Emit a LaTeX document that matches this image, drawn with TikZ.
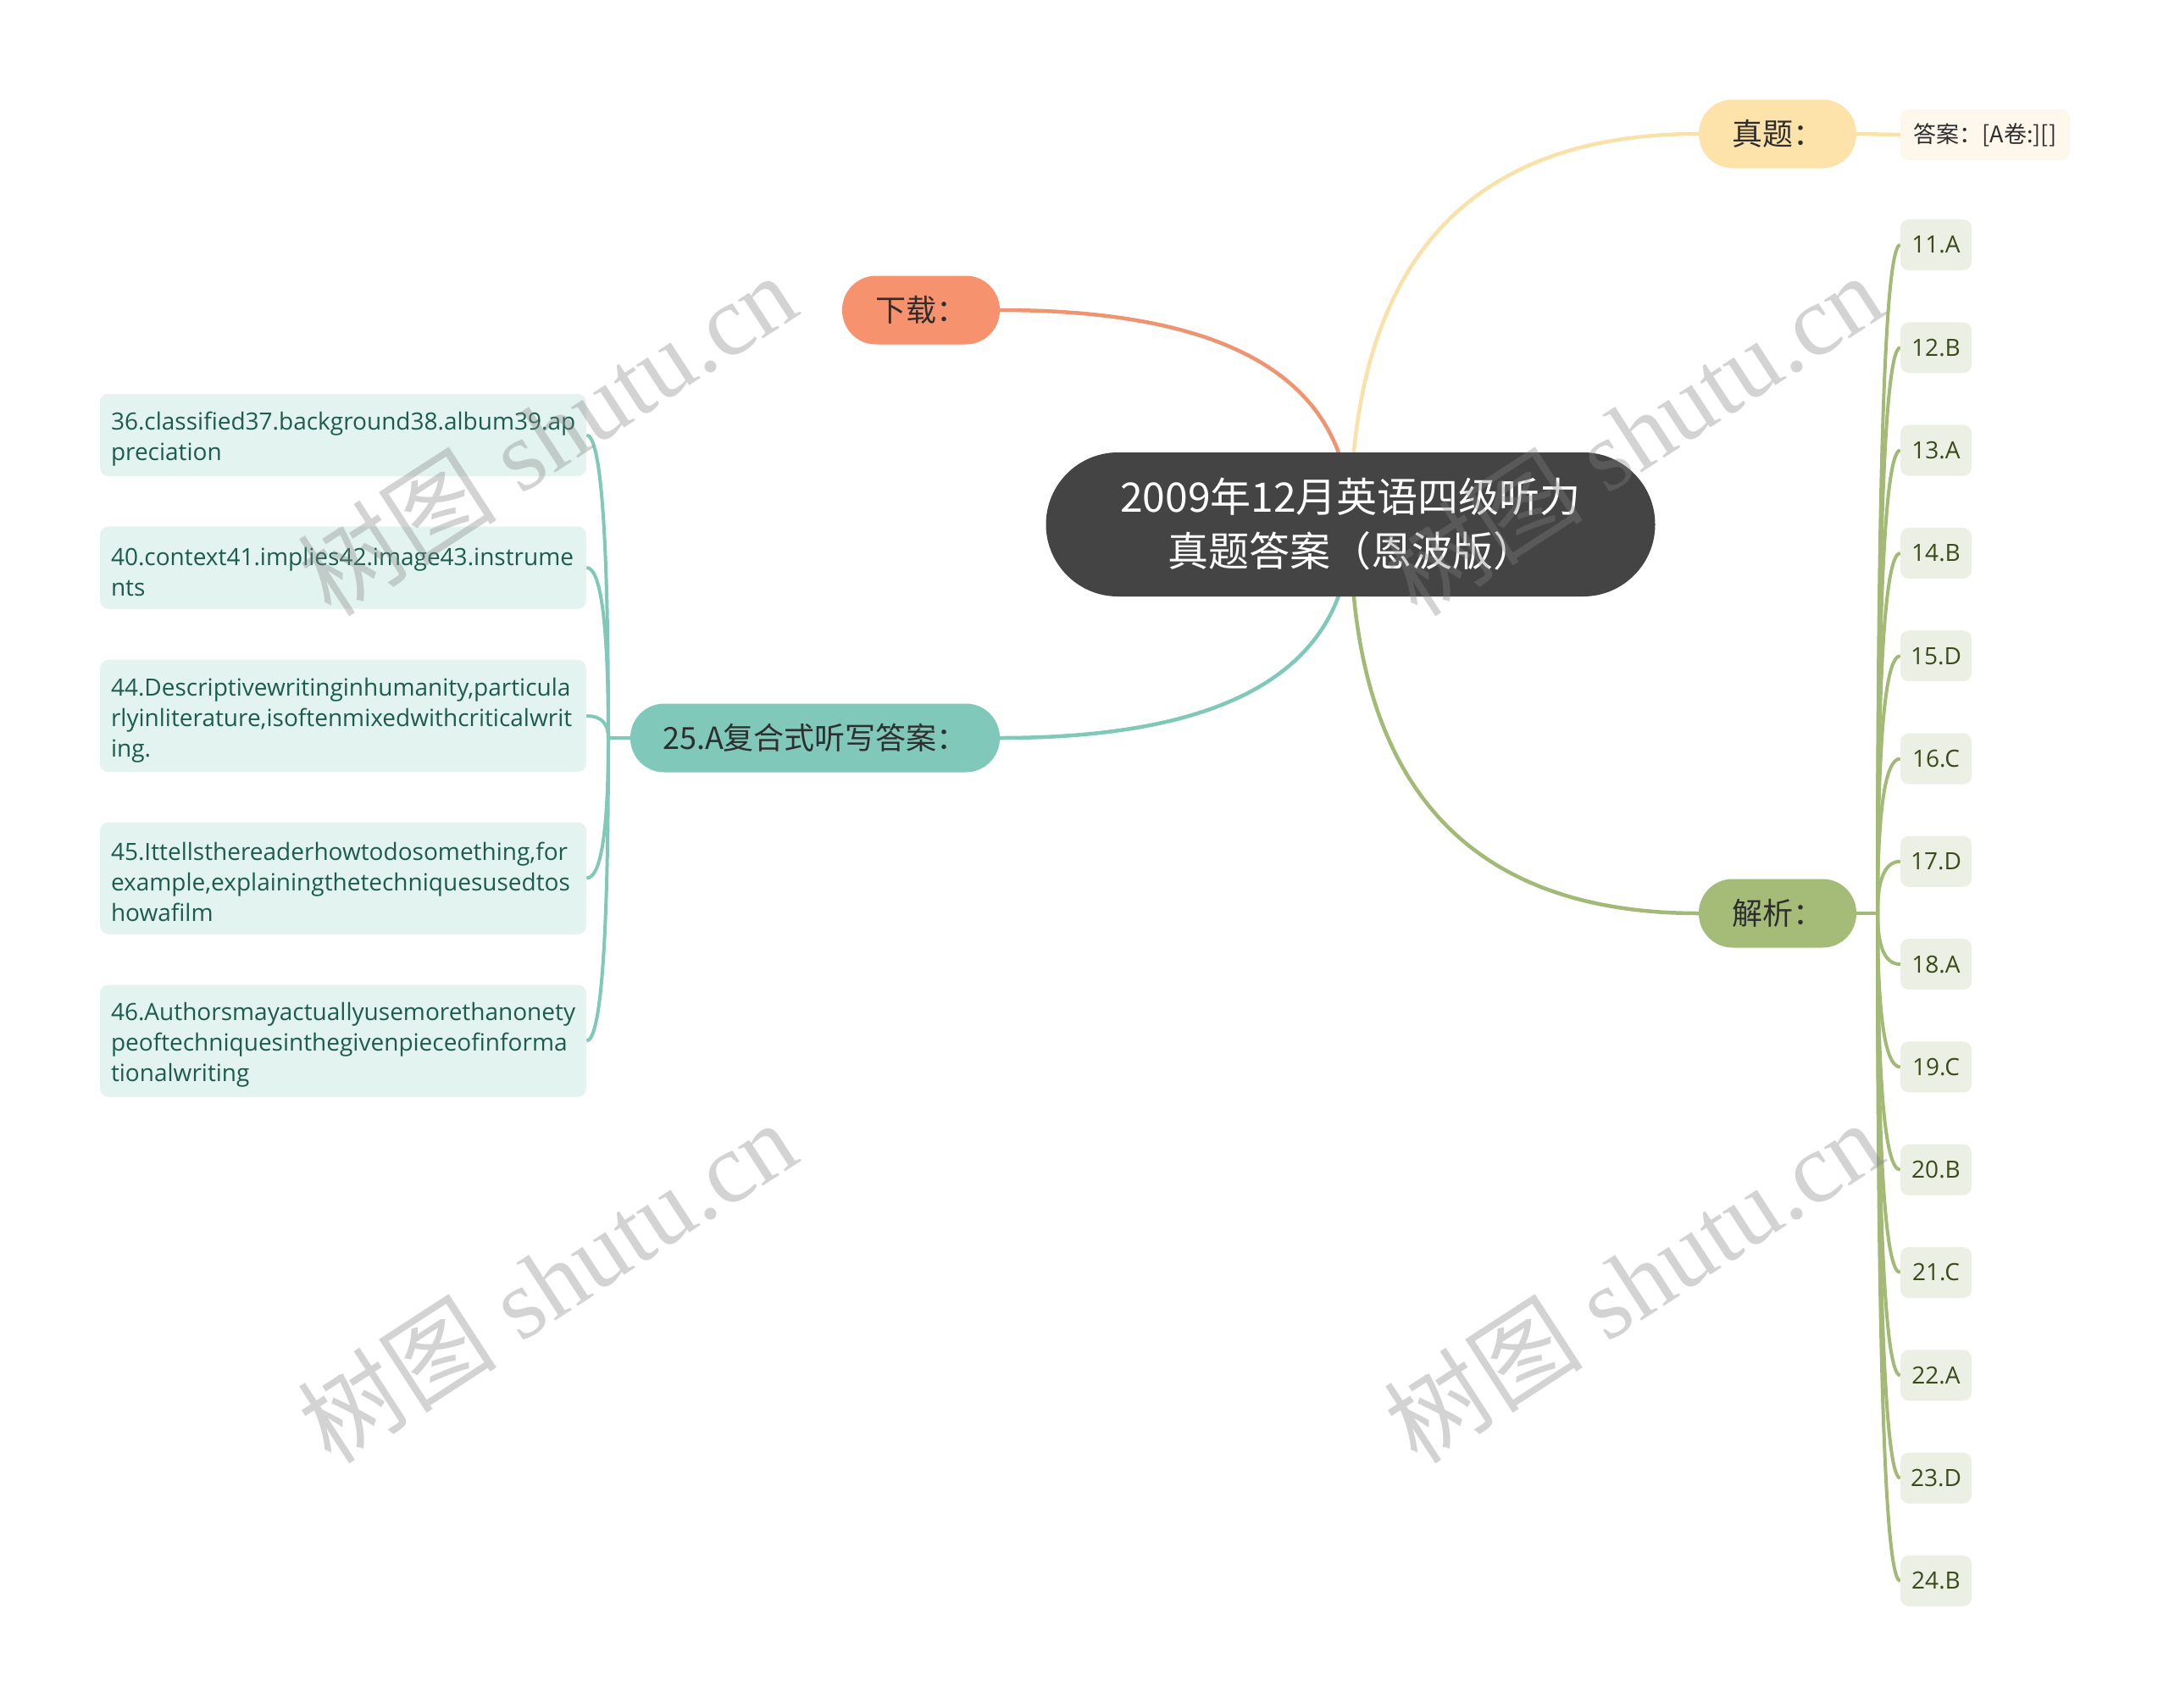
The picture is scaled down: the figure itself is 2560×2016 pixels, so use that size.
\documentclass[tikz,border=0pt]{standalone}
\usepackage{fontspec}
\setmainfont{Open Sans}
\newfontfamily\cjk{Noto Sans CJK SC}
\newfontfamily\wmser{Liberation Serif}
\usetikzlibrary{calc,backgrounds}
\hyphenpenalty=10000
\exhyphenpenalty=10000
\definecolor{hubgray}{HTML}{444444}
\definecolor{ylwfill}{HTML}{FDE3A9}
\definecolor{ylwline}{HTML}{F8E2AA}
\definecolor{orgfill}{HTML}{F7926E}
\definecolor{orgline}{HTML}{EE9470}
\definecolor{tealfill}{HTML}{80C9BA}
\definecolor{tealline}{HTML}{80C8B8}
\definecolor{grnfill}{HTML}{A5BB78}
\definecolor{grnline}{HTML}{A3BA77}
\definecolor{ansfill}{HTML}{FEF8EC}
\definecolor{lleaffill}{HTML}{E3F3EF}
\definecolor{lleaftext}{HTML}{1B5C4E}
\definecolor{rleaffill}{HTML}{ECEFE3}
\definecolor{rleaftext}{HTML}{3A4A18}
\definecolor{textdark}{HTML}{2E2E2E}
\definecolor{wmgray}{HTML}{828282}
\newcommand\qc[3]{\draw[#1] (#2) .. controls ($(#2)!0.6667!(#2 |- #3)$) and ($(#3)!0.6667!(#2 |- #3)$) .. (#3);}
\begin{document}
\begin{tikzpicture}[x=1pt,y=-1pt,
  hub/.style={rounded corners=85pt, fill=hubgray, minimum width=719pt, minimum height=170pt, text=white, font=\cjk\fontsize{48}{64}\selectfont, align=center, inner sep=0pt},
  branch/.style={rounded corners=40pt, minimum height=81pt, inner sep=0pt, font=\cjk\fontsize{36}{44}\selectfont, text=textdark},
  ansbox/.style={rounded corners=10pt, fill=ansfill, minimum width=200pt, minimum height=60pt, inner sep=0pt, font=\cjk\fontsize{27}{32}\selectfont, text=textdark},
  lleaf/.style={fill=lleaffill, rounded corners=10pt, text width=548pt, inner xsep=13pt, inner ysep=0pt, align=left, text=lleaftext, font=\fontsize{28}{36}\selectfont, execute at begin node={\rule{0pt}{31pt}}},
  rleaf/.style={fill=rleaffill, rounded corners=10pt, minimum width=84pt, minimum height=60pt, inner sep=0pt, text=rleaftext, font=\fontsize{28}{34}\selectfont},
  mainline/.style={line width=4.5pt},
  subline/.style={line width=4pt},
  wm/.style={rotate=33, text=wmgray, text opacity=0.35, font=\fontsize{118}{130}\selectfont, inner sep=0pt}
]
\useasboundingbox (0,0) rectangle (2560,2016);
% nodes
\node[hub] (hub) at (1594,619) {2009年12月英语四级听力\\真题答案（恩波版）};
\node[branch, fill=ylwfill, minimum width=186pt] (zt) at (2098,158) {真题：};
\node[ansbox] (ans) at (2343,159) {答案：[A卷:][]};
\node[branch, fill=orgfill, minimum width=186pt] (dl) at (1087,366) {下载：};
\node[branch, fill=tealfill, minimum width=436pt] (fh) at (962,871) {25.A复合式听写答案：};
\node[branch, fill=grnfill, minimum width=186pt] (jx) at (2098,1078) {解析：};
% left leaves
\node[lleaf, minimum height=97pt] (l1) at (405,513.5) {36.classified37.background38.album39.ap\\preciation};
\node[lleaf, minimum height=97pt] (l2) at (405,670) {40.context41.implies42.image43.instrume\\nts};
\node[lleaf, minimum height=132pt] (l3) at (405,845) {44.Descriptivewritinginhumanity,particula\\rlyinliterature,isoftenmixedwithcriticalwrit\\ing.};
\node[lleaf, minimum height=132pt] (l4) at (405,1036.5) {45.Ittellsthereaderhowtodosomething,for\\example,explainingthetechniquesusedtos\\howafilm};
\node[lleaf, minimum height=132pt] (l5) at (405,1228.5) {46.Authorsmayactuallyusemorethanonety\\peoftechniquesinthegivenpieceofinforma\\tionalwriting};
% right leaves
\foreach \i/\t [count=\k from 0] in {11/11.A,12/12.B,13/13.A,14/14.B,15/15.D,16/16.C,17/17.D,18/18.A,19/19.C,20/20.B,21/21.C,22/22.A,23/23.D,24/24.B}
  \node[rleaf] (r\i) at (2285,289+121.3*\k) {\t};
\coordinate (pr) at (2216,1078);
\coordinate (pl) at (718,871);
% connectors
\begin{scope}[on background layer]
\fill[white] (0,0) rectangle (2560,2016);
\qc{mainline,ylwline}{hub.center}{zt.west}
\draw[mainline,ylwline] (zt.east) -- (ans.west);
\qc{mainline,orgline}{hub.center}{dl.east}
\qc{mainline,tealline}{hub.center}{fh.east}
\qc{mainline,grnline}{hub.center}{jx.west}
\draw[subline,grnline] (jx.east) -- (pr);
\foreach \i in {11,...,24} {\qc{subline,grnline}{pr}{r\i.west}}
\draw[subline,tealline] (fh.west) -- (pl);
\foreach \i in {1,...,5} {\qc{subline,tealline}{pl}{l\i.east}}
\end{scope}
% watermarks
\node[wm] (wm1) at (645,512) {{\cjk 树图} {\wmser shutu.cn}};
\node[wm] (wm2) at (1927,512) {{\cjk 树图} {\wmser shutu.cn}};
\node[wm] (wm3) at (645,1512) {{\cjk 树图} {\wmser shutu.cn}};
\node[wm] (wm4) at (1927,1512) {{\cjk 树图} {\wmser shutu.cn}};
\end{tikzpicture}
\end{document}
